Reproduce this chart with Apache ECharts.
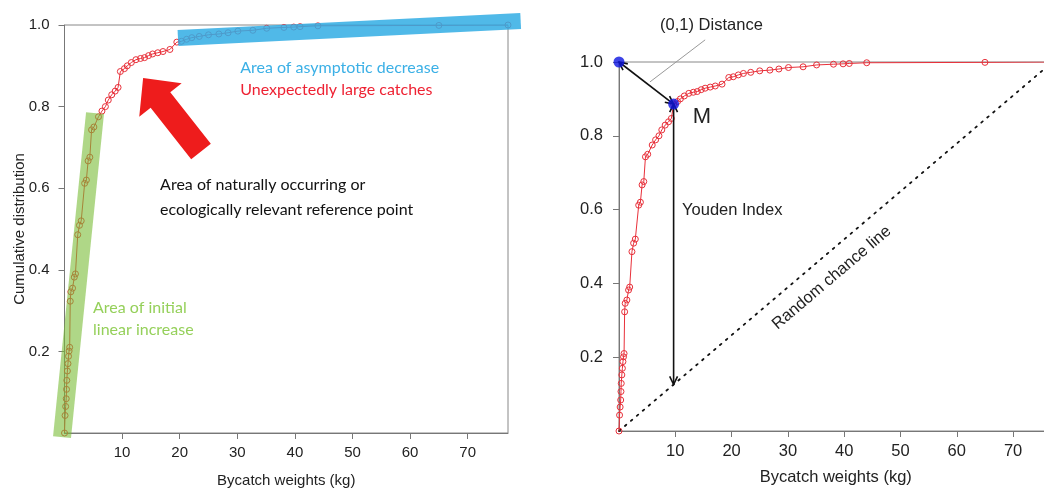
<!DOCTYPE html>
<html><head><meta charset="utf-8">
<script src="https://cdn.jsdelivr.net/npm/echarts@6/dist/echarts.min.js"></script>
<style>html,body{margin:0;padding:0;background:#fff}#c{width:1044px;height:490px}</style>
</head><body><div id="c"></div>
<script>
// ---- data ----
const weights = [0,0.1,0.2,0.3,0.35,0.4,0.5,0.6,0.7,0.8,0.9,1.0,1.1,1.4,1.7,1.9,2.3,2.6,2.9,3.5,3.8,4.1,4.4,4.7,5.1,5.9,6.5,7.1,7.6,8.2,8.8,9.3,9.7,10.4,10.9,11.6,12.4,13.2,13.9,14.6,15.3,16.2,17.1,18.3,19.5,20.3,21.2,22.1,23.4,25.0,26.8,28.4,30.1,32.7,35.1,38.1,39.8,40.9,44.0,65.0,77.0];
const cumulative = [0,0.043,0.065,0.084,0.107,0.129,0.152,0.17,0.188,0.201,0.21,0.323,0.346,0.355,0.382,0.39,0.486,0.509,0.52,0.612,0.62,0.667,0.676,0.743,0.75,0.775,0.789,0.80,0.816,0.829,0.838,0.847,0.886,0.893,0.90,0.908,0.915,0.918,0.92,0.925,0.929,0.932,0.935,0.94,0.958,0.96,0.965,0.969,0.972,0.976,0.978,0.981,0.985,0.987,0.992,0.994,0.995,0.996,0.998,0.999,1.0];
const xTicks = [10,20,30,40,50,60,70];
const yTicks = [0.2,0.4,0.6,0.8,1.0];
const xMin = 0, xMax = 77;
const perfectPoint = [0, 1];
const optimalPoint = [9.7, 0.886];
const randomLine = [[0,0],[77,1]];
const xTitle = 'Bycatch weights (kg)';
const yTitle = 'Cumulative distribution';

// ---- annotation anchors (data units) ----
const greenBand = [[-0.43,-0.01],[5.3,0.784]];
const blueBand = [[19.7,0.968],[79.2,1.01]];
const bigArrowTip = [13.65,0.87], bigArrowTail = [23.7,0.69];
const leftNotes = [
  {text:'Area of asymptotic decrease', at:[30.5,0.895], color:'#3bb0e6'},
  {text:'Unexpectedly large catches', at:[30.5,0.841], color:'#ee2233'},
  {text:'Area of naturally occurring or', at:[16.6,0.608], color:'#111'},
  {text:'ecologically relevant reference point', at:[16.6,0.547], color:'#111'},
  {text:'Area of initial', at:[4.96,0.306], color:'#95d05a'},
  {text:'linear increase', at:[4.96,0.252], color:'#95d05a'}
];
const distLabelAt = [7.3,1.10], leaderFrom = [15.3,1.06], leaderTo = [5.5,0.946];
const mLabelAt = [13.1,0.851], youdenLabelAt = [11.2,0.599], chanceLabelAt = [37.8,0.415];

const pts = weights.map((w,i)=>[w,cumulative[i]]);
const AX = 'Liberation Sans';

function xAxisCfg(g, fs, margin, gap){
  return {type:'value', gridIndex:g, min:xMin, max:xMax, interval:10,
    name:xTitle, nameLocation:'middle', nameGap:gap, nameMoveOverlap:false,
    nameTextStyle:{fontFamily:AX, fontSize:fs, color:'#222'},
    axisLine:{show:true, onZero:false, lineStyle:{color:'#777'}},
    axisTick:{show:true, length:6, lineStyle:{color:'#777'}, customValues:xTicks},
    axisLabel:{customValues:xTicks, fontFamily:AX, fontSize:fs, color:'#222', margin:margin},
    splitLine:{show:false}};
}
function yAxisCfg(g, fs, margin, name, gap){
  return {type:'value', gridIndex:g, min:0, max:1, interval:0.2,
    name:name, nameLocation:'middle', nameGap:gap, nameMoveOverlap:false,
    nameTextStyle:{fontFamily:AX, fontSize:fs, color:'#222'},
    axisLine:{show:true, onZero:false, lineStyle:{color:'#777'}},
    axisTick:{show:true, length:6, lineStyle:{color:'#777'}, customValues:yTicks},
    axisLabel:{customValues:yTicks, fontFamily:AX, fontSize:fs, color:'#222', margin:margin, formatter:v=>v.toFixed(1)},
    splitLine:{show:false}};
}
const curveStyle = (g)=>({type:'line', xAxisIndex:g, yAxisIndex:g, data:pts, symbol:'circle', symbolSize:6,
  itemStyle:{color:'rgba(0,0,0,0)', borderColor:'#e8303a', borderWidth:1},
  lineStyle:{color:'#e8303a', width:1}, emphasis:{disabled:true}, animation:false, z:3});

const chart = echarts.init(document.getElementById('c'), null, {renderer:'canvas'});
chart.setOption({
  animation:false,
  backgroundColor:'#fff',
  grid:[
    {left:64.5, top:25, right:536, bottom:57, show:true, borderColor:'#888', borderWidth:1, outerBoundsMode:'none'},
    {left:619, top:62, right:-8.5, bottom:59, show:true, borderColor:'#888', borderWidth:1, outerBoundsMode:'none'}
  ],
  xAxis:[xAxisCfg(0,15,12,40), xAxisCfg(1,16.5,12,38)],
  yAxis:[yAxisCfg(0,15,15,yTitle,37), yAxisCfg(1,16.5,16,'',30)],
  series:[
    curveStyle(0),
    curveStyle(1),
    {type:'line', xAxisIndex:1, yAxisIndex:1, data:randomLine, symbol:'none',
     lineStyle:{color:'#111', width:1.8, type:[1.8,6], cap:'round'}, z:2, animation:false},
    {type:'scatter', xAxisIndex:1, yAxisIndex:1, data:[perfectPoint, optimalPoint], symbolSize:11,
     itemStyle:{color:'#0c14e0'}, z:90, animation:false}
  ]
});

function P(g, d){ return chart.convertToPixel({gridIndex:g}, d); }
function band(g, a, b, w, color){
  const p=P(g,a), q=P(g,b); const dx=q[0]-p[0], dy=q[1]-p[1]; const L=Math.hypot(dx,dy);
  const nx=-dy/L*w/2, ny=dx/L*w/2;
  return {type:'polygon', z:50, shape:{points:[[p[0]+nx,p[1]+ny],[q[0]+nx,q[1]+ny],[q[0]-nx,q[1]-ny],[p[0]-nx,p[1]-ny]]}, style:{fill:color}};
}
function blockArrow(g, tipD, tailD, headLen, headHalf, shaftHalf, color){
  const t=P(g,tipD), e=P(g,tailD); const dx=e[0]-t[0], dy=e[1]-t[1]; const L=Math.hypot(dx,dy);
  const ux=dx/L, uy=dy/L, nx=-uy, ny=ux;
  const b=[t[0]+ux*headLen, t[1]+uy*headLen];
  return {type:'polygon', z:60, shape:{points:[
    t, [b[0]+nx*headHalf,b[1]+ny*headHalf],[b[0]+nx*shaftHalf,b[1]+ny*shaftHalf],
    [e[0]+nx*shaftHalf,e[1]+ny*shaftHalf],[e[0]-nx*shaftHalf,e[1]-ny*shaftHalf],
    [b[0]-nx*shaftHalf,b[1]-ny*shaftHalf],[b[0]-nx*headHalf,b[1]-ny*headHalf]]}, style:{fill:color}};
}
function arrowLine(g, aD, bD){
  const a=P(g,aD), b=P(g,bD); const els=[];
  els.push({type:'line', z:40, shape:{x1:a[0],y1:a[1],x2:b[0],y2:b[1]}, style:{stroke:'#111', lineWidth:1.6}});
  [[a,b],[b,a]].forEach(([tip,from])=>{
    const dx=from[0]-tip[0], dy=from[1]-tip[1], L=Math.hypot(dx,dy), ux=dx/L, uy=dy/L;
    const ang=0.45, hl=9;
    const r1=[tip[0]+hl*(ux*Math.cos(ang)-uy*Math.sin(ang)), tip[1]+hl*(ux*Math.sin(ang)+uy*Math.cos(ang))];
    const r2=[tip[0]+hl*(ux*Math.cos(-ang)-uy*Math.sin(-ang)), tip[1]+hl*(ux*Math.sin(-ang)+uy*Math.cos(-ang))];
    els.push({type:'polyline', z:40, shape:{points:[r1,tip,r2]}, style:{stroke:'#111', lineWidth:1.6, fill:null}});
  });
  return els;
}
function txt(g, d, text, color, font, align, rot){
  const p=P(g,d);
  return {type:'text', z:70, x:p[0], y:p[1], rotation:rot||0,
    style:{text:text, fill:color, font:font, textAlign:align||'left', textVerticalAlign:'middle'}};
}

const g = [];
g.push(band(0, greenBand[0], greenBand[1], 18, 'rgba(122,188,55,0.6)'));
g.push(band(0, blueBand[0], blueBand[1], 16, 'rgba(49,173,228,0.85)'));
g.push(blockArrow(0, bigArrowTip, bigArrowTail, 28, 27, 12.5, '#ee1c1c'));
leftNotes.forEach(n=>g.push(txt(0, n.at, n.text, n.color, '16px Lato')));
// right panel
const lf=P(1,leaderFrom), lt=P(1,leaderTo);
g.push({type:'line', z:40, shape:{x1:lf[0],y1:lf[1],x2:lt[0],y2:lt[1]}, style:{stroke:'#999', lineWidth:1}});
arrowLine(1, perfectPoint, optimalPoint).forEach(e=>g.push(e));
arrowLine(1, optimalPoint, [optimalPoint[0], optimalPoint[0]*randomLine[1][1]/randomLine[1][0]]).forEach(e=>g.push(e));
g.push(txt(1, distLabelAt, '(0,1) Distance', '#222', '16.5px "Liberation Sans"'));
g.push(txt(1, mLabelAt, 'M', '#222', '22px "Liberation Sans"'));
g.push(txt(1, youdenLabelAt, 'Youden Index', '#222', '16.5px "Liberation Sans"'));
const r0=P(1,randomLine[0]), r1=P(1,randomLine[1]);
const rot=Math.atan2(r0[1]-r1[1], r1[0]-r0[0]);
g.push(txt(1, chanceLabelAt, 'Random chance line', '#222', '16.5px "Liberation Sans"', 'center', rot));
chart.setOption({graphic:{elements:g}});
</script></body></html>
